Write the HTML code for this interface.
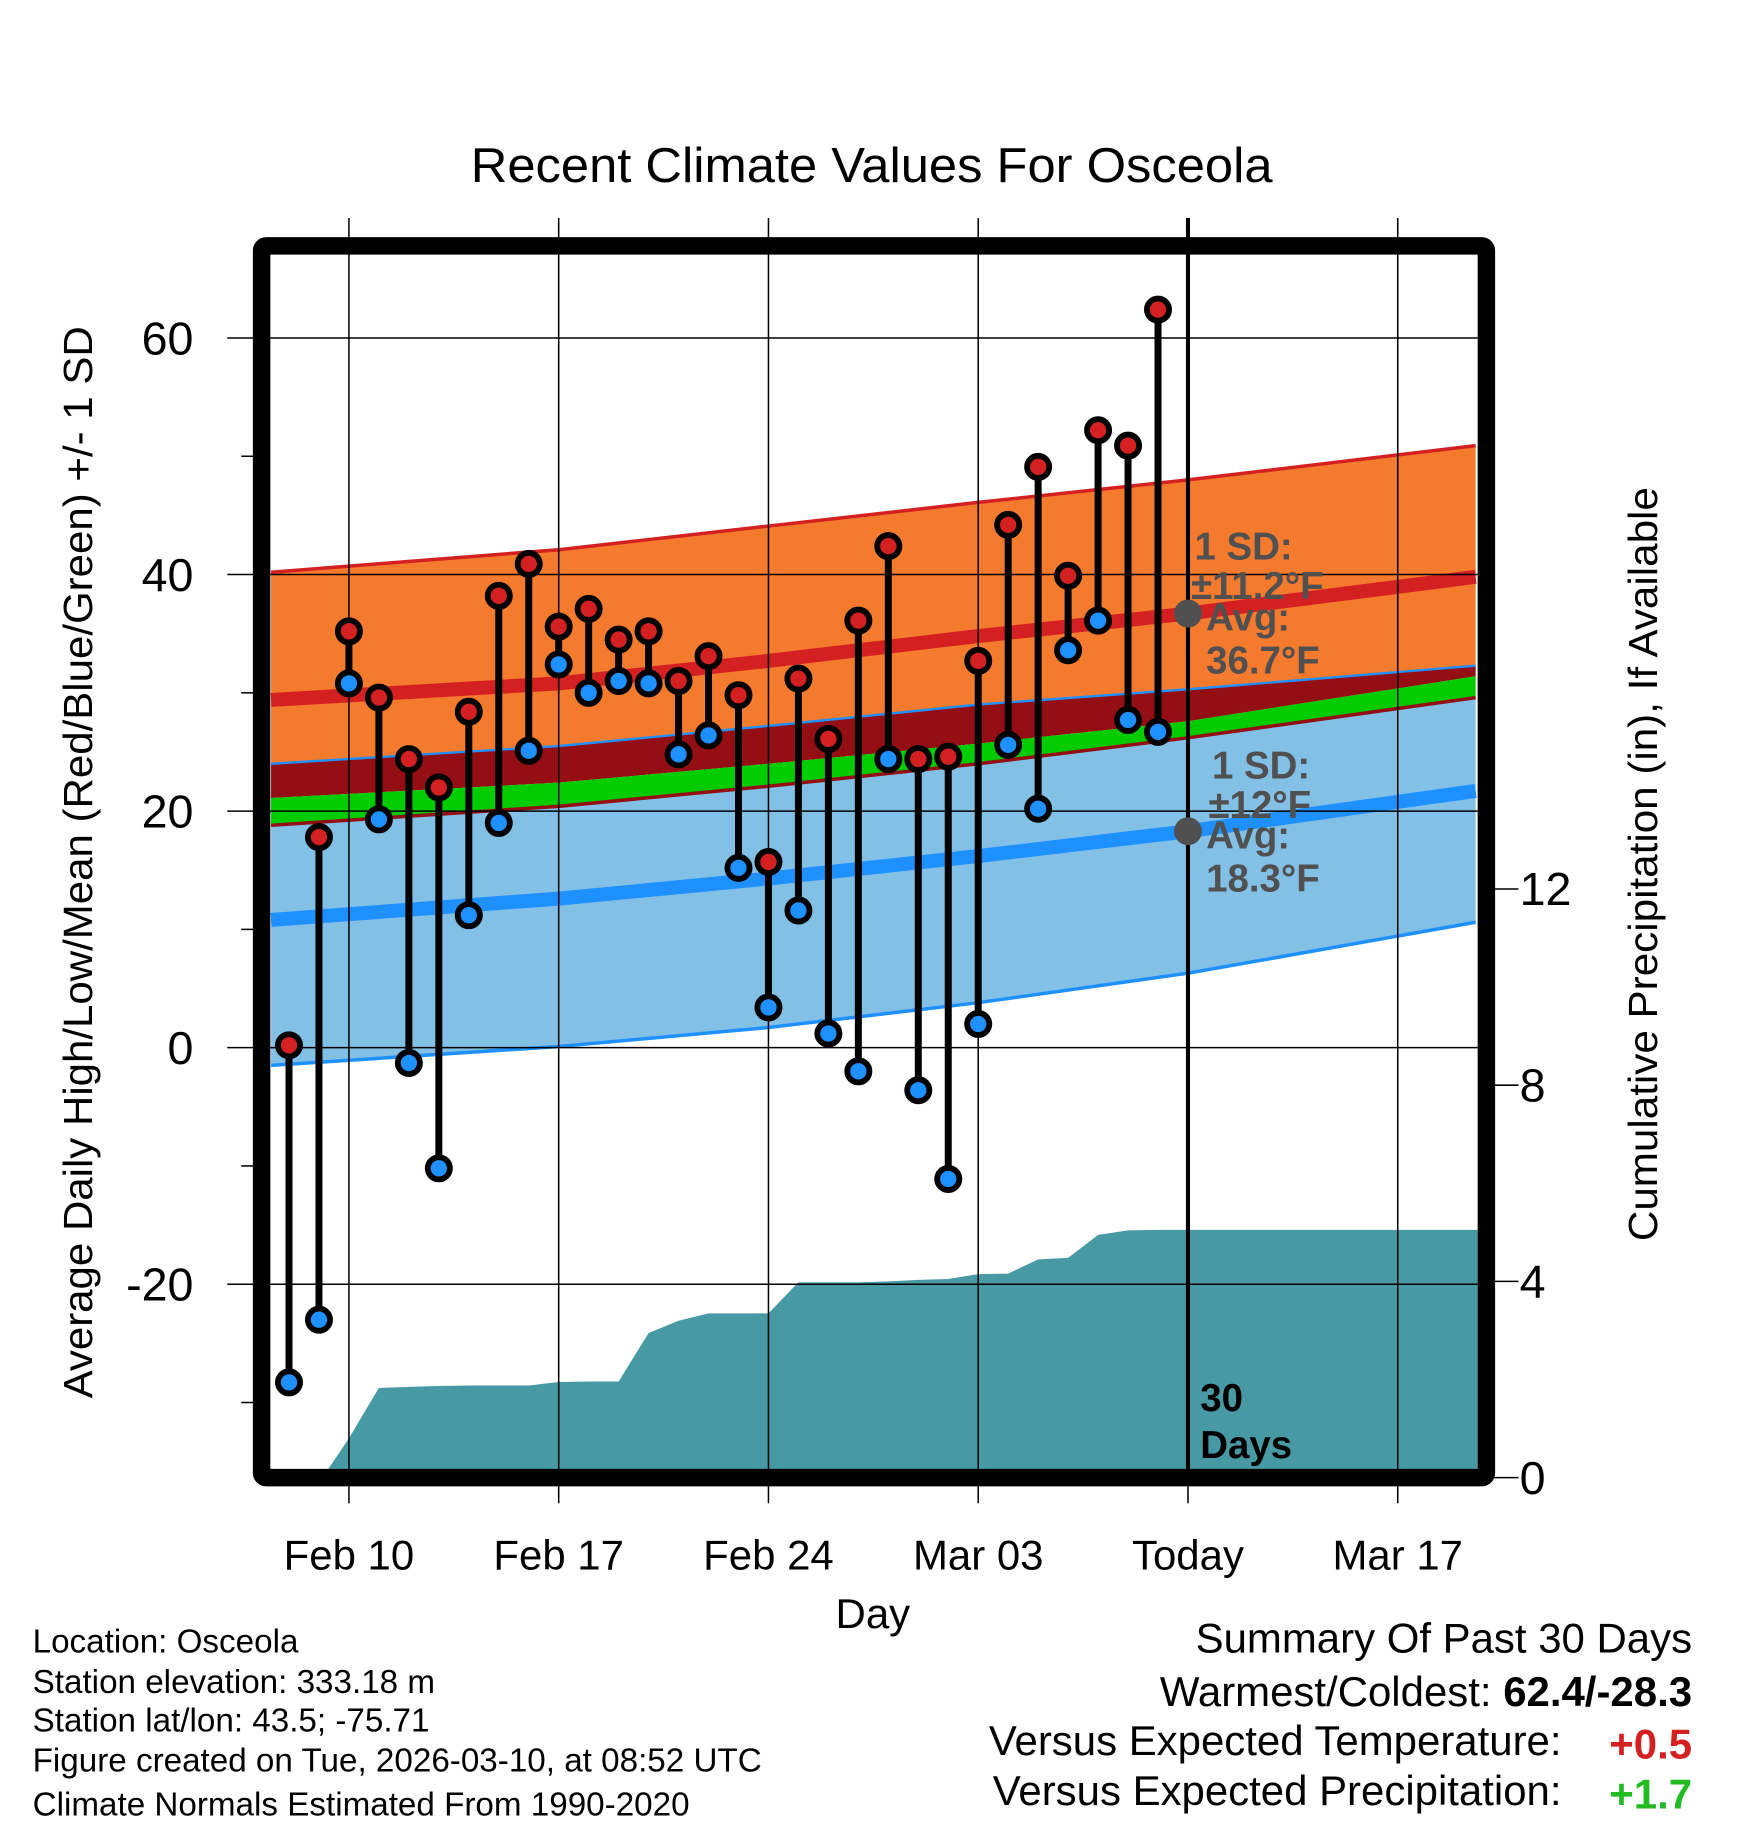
<!DOCTYPE html>
<html><head><meta charset="utf-8"><style>
html,body{margin:0;padding:0;background:#fff;}
svg{display:block;font-family:"Liberation Sans",Arial,sans-serif;}
</style></head><body>
<svg id="chart" width="1748" height="1828" viewBox="0 0 1500 1568.6" xmlns="http://www.w3.org/2000/svg">
<rect x="0" y="0" width="1500" height="1568.6" fill="#fff"/>
<text x="404" y="156" font-size="42" textLength="688" lengthAdjust="spacingAndGlyphs">Recent Climate Values For Osceola</text>
<g id="bands"></g>
<g id="precip"></g>
<g id="grid"></g>
<g id="today"></g>
<g id="marks"></g>
<g id="annot"></g>
<rect x="224.5" y="211" width="1051" height="1057" fill="none" stroke="#000" stroke-width="15" rx="4"/>
<g id="axes"></g>
<text transform="translate(79,1200) rotate(-90)" font-size="35" textLength="920" lengthAdjust="spacingAndGlyphs">Average Daily High/Low/Mean (Red/Blue/Green) +/- 1 SD</text>
<text transform="translate(1422,1065) rotate(-90)" font-size="35" textLength="647" lengthAdjust="spacingAndGlyphs">Cumulative Precipitation (in), If Available</text>
<text x="749" y="1397" font-size="36" text-anchor="middle">Day</text>
<g font-size="28.5">
<text x="28" y="1418">Location: Osceola</text>
<text x="28" y="1453">Station elevation: 333.18 m</text>
<text x="28" y="1486">Station lat/lon: 43.5; -75.71</text>
<text x="28" y="1520">Figure created on Tue, 2026-03-10, at 08:52 UTC</text>
<text x="28" y="1558">Climate Normals Estimated From 1990-2020</text>
</g>
<g font-size="36">
<text x="1452" y="1418" text-anchor="end">Summary Of Past 30 Days</text>
<text x="1452" y="1464" text-anchor="end">Warmest/Coldest: <tspan font-weight="bold">62.4/-28.3</tspan></text>
<text x="1340" y="1506" text-anchor="end">Versus Expected Temperature:</text>
<text x="1452" y="1509" text-anchor="end" font-weight="bold" fill="#d42020">+0.5</text>
<text x="1340" y="1549" text-anchor="end">Versus Expected Precipitation:</text>
<text x="1452" y="1552" text-anchor="end" font-weight="bold" fill="#22bb22">+1.7</text>
</g>
</svg>
<script>
const NS="http://www.w3.org/2000/svg";
// data
const highs=[0.2,17.8,35.2,29.6,24.4,22,28.4,38.2,40.9,35.6,37.1,34.5,35.2,31,33.1,29.8,15.7,31.2,26.1,36.1,42.4,24.4,24.6,32.7,44.2,49.1,39.9,52.2,50.9,62.4];
const lows=[-28.3,-23,30.8,19.3,-1.3,-10.2,11.2,19,25.1,32.4,30,31,30.8,24.8,26.4,15.2,3.4,11.6,1.2,-2,24.4,-3.6,-11.1,2,25.6,20.2,33.6,36.1,27.7,26.7];
const precip=[0,0,0.8,1.83,1.85,1.87,1.88,1.88,1.88,1.95,1.96,1.96,2.95,3.2,3.35,3.35,3.35,3.98,3.98,3.98,4.0,4.03,4.05,4.15,4.16,4.45,4.48,4.95,5.04,5.05];
const normDays=[-0.6,9,16,23,30,39.6];
const highPlusSD=[40.2,42.1,44.1,46.1,48.0,50.9];
const highMean=[29.4,30.8,32.7,34.8,36.7,39.8];
const highMinusSD=[24.0,25.5,27.2,29.0,30.3,32.3];
const meanTop=[21.1,22.4,24.0,25.7,27.6,31.4];
const lowPlusSD=[18.8,20.4,22.1,24.0,26.2,29.6];
const lowMean=[10.8,12.6,14.3,16.2,18.3,21.7];
const lowMinusSD=[-1.5,0.1,1.7,3.8,6.3,10.6];
const xTickDays=[2,9,16,23,30,37];
const xTickLabels=["Feb 10","Feb 17","Feb 24","Mar 03","Today","Mar 17"];
const yTicks=[60,40,20,0,-20];
const yMinor=[50,30,10,-10,-30];
const y2Ticks=[0,4,8,12];
// axes functions
const X0=248, DX=180/7;
const xs=d=>X0+d*DX;
const ys=v=>899-v*10.15;
const yp=v=>1268-v*42.1;
const XL=232, XR=1268, YT=218, YB=1268;
function el(tag,attrs,parent){const e=document.createElementNS(NS,tag);for(const k in attrs)e.setAttribute(k,attrs[k]);parent.appendChild(e);return e;}
const bands=document.getElementById('bands');
function lineD(arr){return normDays.map((d,i)=>(i?'L':'M')+xs(d).toFixed(1)+','+ys(arr[i]).toFixed(1)).join(' ');}
function revD(arr){return normDays.map((d,i)=>'L'+xs(normDays[normDays.length-1-i]).toFixed(1)+','+ys(arr[arr.length-1-i]).toFixed(1)).join(' ');}
function band(top,bot,fill,name){const p=el('path',{d:lineD(top)+' '+revD(bot)+' Z',fill:fill},bands);

}
band(highPlusSD,highMinusSD,'#f47a2e','high-sd-band');
band(lowPlusSD,lowMinusSD,'#82c0e6','low-sd-band');
band(highMinusSD,meanTop,'#930f14','mean-band-upper');
band(meanTop,lowPlusSD,'#00cc00','mean-band');
function line(arr,stroke,w,name){const p=el('path',{d:lineD(arr),fill:'none',stroke:stroke,'stroke-width':w},bands);

}
line(highPlusSD,'#d42020',3,'high-plus-sd-line');
line(highMean,'#d42020',12,'normal-high-line');
line(highMinusSD,'#1e90ff',2,'high-minus-sd-line');
line(lowPlusSD,'#930f14',3,'low-plus-sd-line');
line(lowMean,'#1e90ff',12,'normal-low-line');
line(lowMinusSD,'#1e90ff',3,'low-minus-sd-line');
// precip
const pg=document.getElementById('precip');
let d='M'+(xs(1)+3)+','+YB;
precip.forEach((v,i)=>{if(i>=2)d+=' L'+xs(i).toFixed(1)+','+yp(v).toFixed(1);});
d+=' L'+XR+','+yp(precip[precip.length-1]).toFixed(1)+' L'+XR+','+YB+' Z';
const pp=el('path',{d:d,fill:'#4799a3'},pg);


// grid
const g=document.getElementById('grid');
xTickDays.forEach(dd=>{const l=el('line',{x1:xs(dd),x2:xs(dd),y1:187,y2:1290,stroke:'#000','stroke-width':1.3},g);

});
yTicks.forEach(v=>{const l=el('line',{x1:195,x2:XR,y1:ys(v),y2:ys(v),stroke:'#000','stroke-width':1.3},g);

});
yMinor.forEach(v=>{const l=el('line',{x1:207,x2:220,y1:ys(v),y2:ys(v),stroke:'#000','stroke-width':1.3},g);

});
y2Ticks.forEach(v=>{const l=el('line',{x1:1280,x2:1303,y1:yp(v),y2:yp(v),stroke:'#000','stroke-width':1.3},g);

});
// today line
const tl=el('line',{x1:xs(30),x2:xs(30),y1:187,y2:YB,stroke:'#000','stroke-width':3.5},document.getElementById('today'));


// marks
const m=document.getElementById('marks');
highs.forEach((h,i)=>{const x=xs(i);
const s=el('line',{x1:x,x2:x,y1:ys(h),y2:ys(lows[i]),stroke:'#000','stroke-width':6},m);

});
highs.forEach((h,i)=>{const x=xs(i);
const c1=el('circle',{cx:x,cy:ys(h),r:9.5,fill:'#d42020',stroke:'#000','stroke-width':5},m);


const c2=el('circle',{cx:x,cy:ys(lows[i]),r:9.5,fill:'#1e90ff',stroke:'#000','stroke-width':5},m);

});
// annotations
const a=document.getElementById('annot');
function t(x,y,s,name,fill){const e=el('text',{x:x,y:y,'font-size':33,'font-weight':'bold',fill:fill||'#505050'},a);e.textContent=s;

}
const dt1=el('circle',{cx:xs(30),cy:ys(highMean[4]),r:12,fill:'#505050'},a);


const dt2=el('circle',{cx:xs(30),cy:ys(lowMean[4]),r:12,fill:'#505050'},a);


t(1025,480,'1 SD:','high-sd-label');
t(1022,514,'±11.2°F','high-sd-value');
t(1035,541,'Avg:','high-avg-label');
t(1035,578,'36.7°F','high-avg-value');
t(1040,668,'1 SD:','low-sd-label');
t(1037,702,'±12°F','low-sd-value');
t(1035,728,'Avg:','low-avg-label');
t(1035,765,'18.3°F','low-avg-value');
t(1030,1211,'30','days-label-num','#000');
t(1030,1251,'Days','days-label','#000');
// axis labels
const ax=document.getElementById('axes');
xTickDays.forEach((dd,i)=>{const e=el('text',{x:xs(dd),y:1347,'font-size':36,'text-anchor':'middle'},ax);e.textContent=xTickLabels[i];

});
yTicks.forEach(v=>{const e=el('text',{x:166,y:ys(v)+14,'font-size':40,'text-anchor':'end'},ax);e.textContent=v;

});
y2Ticks.forEach(v=>{const e=el('text',{x:1304,y:yp(v)+14,'font-size':40},ax);e.textContent=v;

});
</script>
</body></html>
